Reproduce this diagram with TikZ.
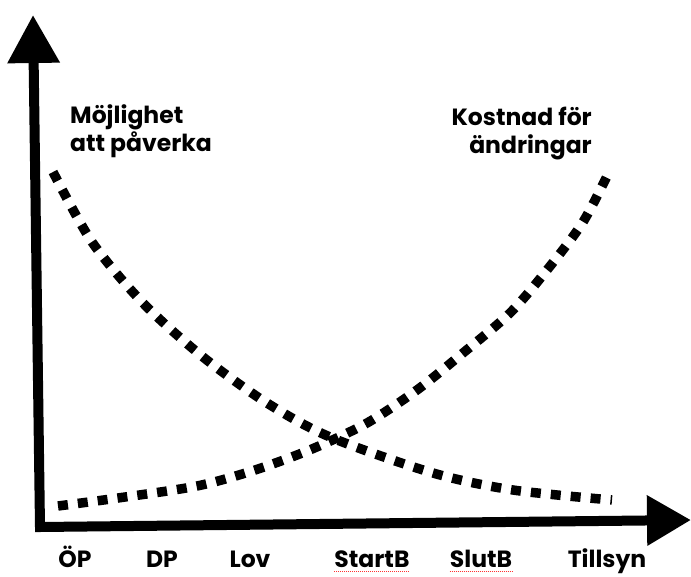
\documentclass[tikz,border=0pt]{standalone}
\usepackage{fontspec}
\setmainfont{Poppins}
\usetikzlibrary{arrows.meta}
\usetikzlibrary{positioning}
\tikzstyle{axis}=[line width=10pt, line join=miter]
\tikzstyle{curve}=[line width=9.5pt, dash pattern=on 10pt off 10pt]
\tikzstyle{curvetext}=[font=\fontsize{23.5}{28}\selectfont\bfseries, inner sep=0pt]
\tikzstyle{phase}=[font=\fontsize{23.5}{28}\selectfont\bfseries, inner sep=0pt, anchor=base]
\tikzstyle{spellmark}=[red!80, densely dotted, line width=1pt]

\begin{document}
\begin{tikzpicture}[x=1pt, y=-1pt]
    \useasboundingbox[fill=white] (0,0) rectangle (691,576);

    \coordinate (origin) at (40,527);
    \coordinate (ytop) at (33,15);
    \coordinate (xend) at (691,520);
    \draw[axis, {Triangle[width=50pt,length=48pt]}-{Triangle[width=48pt,length=44pt]}] (ytop) -- (origin) -- (xend);

%curves
    \draw[curve] plot[smooth] coordinates {(53,172) (92,242) (143,303) (203,357) (267,403) (330,437) (433,473) (513,490) (612,500)};
    \draw[curve] plot[smooth] coordinates {(58,506) (118,498) (197,486) (255,470) (312,449) (367,423) (417,390) (463,353) (510,313) (547,270) (583,222) (610,170)};

    \node[curvetext, anchor=base west] (chance) at (70,123) {Möjlighet};
    \node[curvetext, anchor=base west] (chance2) at (70,151) {att påverka};
    \node[curvetext, anchor=base east] (cost) at (592,125) {Kostnad för};
    \node[curvetext, anchor=base east] (cost2) at (592,153) {ändringar};

    \foreach \x/\name/\txt in {75/op/ÖP, 162/dp/DP, 250/lov/Lov, 372/startb/StartB, 481/slutb/SlutB, 607/tillsyn/Tillsyn}
        \node[phase] (\name) at (\x,567) {\txt};

    \draw[spellmark] ([yshift=-4pt]startb.base west) -- ([yshift=-4pt]startb.base east);
    \draw[spellmark] ([yshift=-4pt]slutb.base west) -- ([yshift=-4pt]slutb.base east);

\end{tikzpicture}
\end{document}
